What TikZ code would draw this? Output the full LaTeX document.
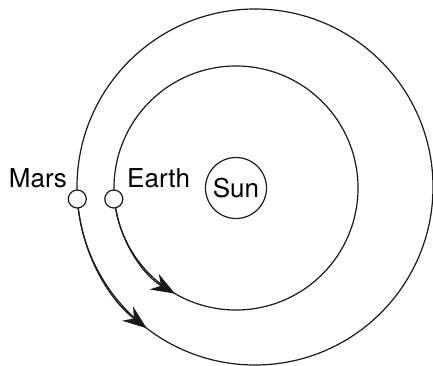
\documentclass[tikz,border=0pt]{standalone}
\usepackage{fontspec}
\setmainfont{TeX Gyre Heros}
\usetikzlibrary{arrows.meta}
\begin{document}
\begin{tikzpicture}[x=1pt,y=1pt,
  orbit/.style={line width=1.2pt,draw=black!90},
  planet/.style={circle,draw=black!90,line width=1.2pt,fill=white,minimum size=18pt,inner sep=0pt},
  lbl/.style={inner sep=0pt,font=\fontsize{26}{30}\selectfont,text=black},
  dirarrow/.style={line width=1.2pt,draw=black!90,-{Stealth[length=24pt,width=18pt,inset=8pt]}}]
\useasboundingbox (0,0) rectangle (433,365);
\coordinate (ic) at (236,177);
\coordinate (oc) at (255,178);
% orbits
\draw[orbit] (ic) circle[radius=122];
\draw[orbit] (oc) circle[radius=178];
% direction arrows
\draw[dirarrow] ([shift={(ic)}]190:122) arc[start angle=190,end angle=240,radius=122];
\draw[dirarrow] ([shift={(oc)}]185:178) arc[start angle=185,end angle=232.5,radius=178];
% sun
\node[circle,draw=black!90,line width=1.2pt,minimum size=61pt,inner sep=0pt,font=\fontsize{26}{30}\selectfont,text=black] (sun) at (236,177) {Sun};
% planets
\node[planet] (earth) at (113.8,166) {};
\node[planet] (mars) at (77.3,166) {};
% labels
\node[lbl,anchor=base east] (marslbl) at (67,178) {Mars};
\node[lbl,anchor=base west] (earthlbl) at (127,178) {Earth};
\end{tikzpicture}
\end{document}
